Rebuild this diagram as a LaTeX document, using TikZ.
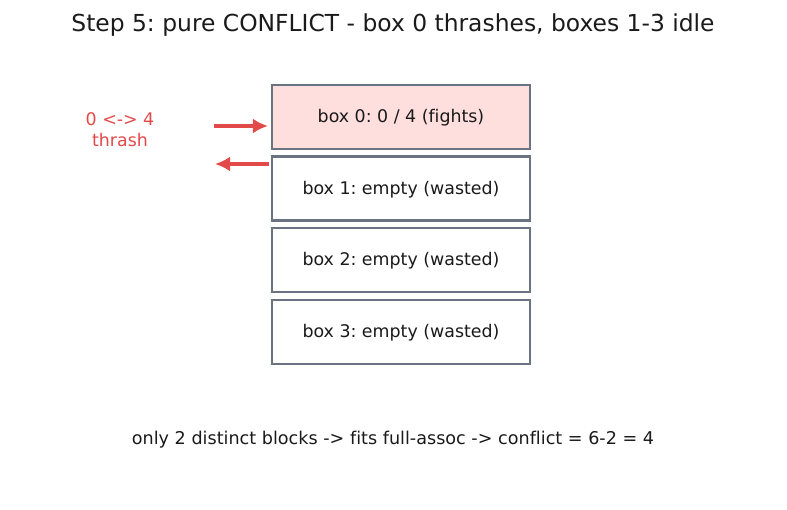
\documentclass[tikz,border=0pt]{standalone}
\usepackage{fontspec}
\setmainfont[Ligatures=NoCommon]{DejaVu Sans}
\frenchspacing
\usetikzlibrary{arrows.meta, positioning}
\definecolor{boxline}{HTML}{6B7280}
\definecolor{boxred}{HTML}{FFDEDE}
\definecolor{thrashred}{HTML}{E24A4A}
\definecolor{textdark}{HTML}{1A1A1A}
\tikzset{
    cachebox/.style={draw=boxline, line width=2.2pt, minimum width=258pt, minimum height=64pt, inner sep=0pt, text height=16pt, text depth=4pt, text=textdark, font=\fontsize{17.4}{20}\selectfont},
    thrasharrow/.style={draw=thrashred, line width=3.4pt, -{Latex[length=15pt,width=15pt]}}
}
\begin{document}
\begin{tikzpicture}[x=1pt, y=-1pt]
        \useasboundingbox (0,0) rectangle (787,510);
        \node[text=textdark, font=\fontsize{23.4}{27}\selectfont] (title) at (393,25) {Step 5: pure CONFLICT - box 0 thrashes, boxes 1-3 idle};

        \node[cachebox, fill=boxred] (box0) at (401,117) {box 0: 0 / 4 (fights)};
        \node[cachebox, fill=white] (box1) at (401,188.5) {box 1: empty (wasted)};
        \node[cachebox, fill=white] (box2) at (401,260) {box 2: empty (wasted)};
        \node[cachebox, fill=white] (box3) at (401,332) {box 3: empty (wasted)};

        \node[text=thrashred, align=center, font=\fontsize{17.4}{21}\selectfont] (thrash) at (120,130) {0 <-> 4\\thrash};

        \coordinate (inStart) at (214,126);
        \coordinate (outEnd) at (215,164);
        \draw[thrasharrow] (inStart) -- ([xshift=-3pt]inStart -| box0.west);
        \draw[thrasharrow] ([xshift=-2pt]outEnd -| box0.west) -- (outEnd);

        \node[text=textdark, font=\fontsize{17.6}{20}\selectfont] (note) at (393,440) {only 2 distinct blocks -> fits full-assoc -> conflict = 6-2 = 4};
    \end{tikzpicture}
\end{document}
